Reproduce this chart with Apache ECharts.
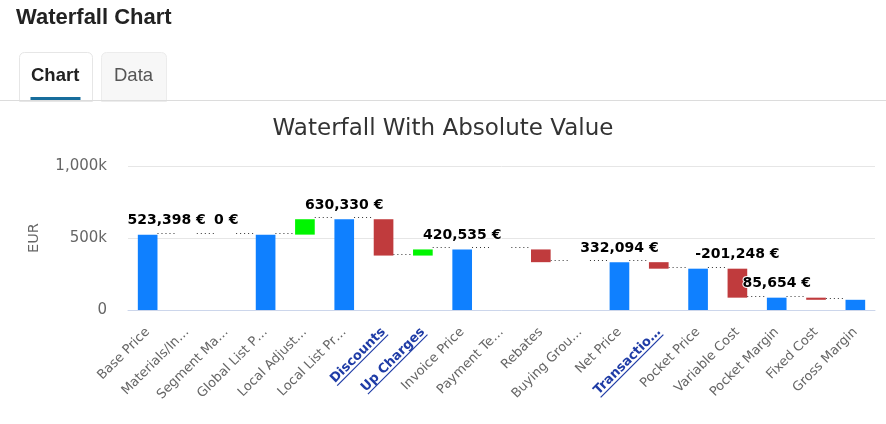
<!DOCTYPE html>
<html>
<head>
<meta charset="utf-8">
<script src="https://cdn.jsdelivr.net/npm/echarts@6/dist/echarts.min.js"></script>
<style>
html,body{margin:0;padding:0;background:#fff;}
#main{width:886px;height:424px;}
</style>
</head>
<body>
<div id="main"></div>
<script>
// ---- data ----
var categories = ['Base Price','Materials/In…','Segment Ma…','Global List P…','Local Adjust…','Local List Pr…','Discounts','Up Charges','Invoice Price','Payment Te…','Rebates','Buying Grou…','Net Price','Transactio…','Pocket Price','Variable Cost','Pocket Margin','Fixed Cost','Gross Margin'];
var amounts = [523398, 0, 0, 523398, 106932, 630330, -252330, 42535, 420535, 0, -88441, 0, 332094, -45192, 286902, -201248, 85654, -14800, 70854];
var isTotal = [true, false, false, true, false, true, false, false, true, false, false, false, true, false, true, false, true, false, true];
var linkCategories = ['Discounts','Up Charges','Transactio…'];
var labelledIndices = [0, 2, 5, 8, 12, 15, 16];
var yTicks = [0, 500000, 1000000];

// ---- derived waterfall geometry (values only) ----
var base = [], visible = [], running = [], colors = [];
var cur = 0;
for (var i = 0; i < amounts.length; i++) {
  if (isTotal[i]) {
    cur = amounts[i];
    base.push(0); visible.push(amounts[i]); colors.push('#0f80ff');
  } else {
    var start = cur, end = cur + amounts[i];
    base.push(Math.min(start, end));
    visible.push(Math.abs(amounts[i]));
    colors.push(amounts[i] >= 0 ? '#00f500' : '#c03b3d');
    cur = end;
  }
  running.push(cur);
}
function fmt(v){ return v.toLocaleString('en-US') + ' €'; }

var connectorData = [];
for (var j = 0; j < categories.length - 1; j++) connectorData.push([j, running[j]]);

var visData = visible.map(function(v, idx){
  var item = {value: v, itemStyle: {color: colors[idx]}};
  if (labelledIndices.indexOf(idx) >= 0) {
    item.label = {show: true, formatter: fmt(amounts[idx])};
    if (idx === 0) item.label.offset = [19, 0];
  }
  return item;
});

var X_FONT = 13, X_MARGIN = 20;
var chart = echarts.init(document.getElementById('main'));
var option = {
  animation: false,
  backgroundColor: '#fff',
  title: {
    text: 'Waterfall With Absolute Value',
    left: 'center',
    top: 113,
    textStyle: {fontFamily: 'DejaVu Sans', fontSize: 23, fontWeight: 'normal', color: '#333'}
  },
  grid: {left: 128, right: 11, top: 166, bottom: 114},
  xAxis: {
    type: 'category',
    data: categories,
    axisTick: {show: false},
    axisLine: {lineStyle: {color: '#ccd6eb'}},
    axisLabel: {
      interval: 0, rotate: 45, margin: X_MARGIN,
      fontFamily: 'DejaVu Sans', fontSize: X_FONT,
      color: function(v){ return linkCategories.indexOf(v) >= 0 ? '#1f3ca6' : '#666'; },
      formatter: function(v){ return linkCategories.indexOf(v) >= 0 ? '{l|' + v + '}' : v; },
      rich: {l: {fontFamily: 'DejaVu Sans', fontSize: X_FONT, fontWeight: 'bold', color: '#1f3ca6'}}
    }
  },
  yAxis: {
    type: 'value', min: yTicks[0], max: yTicks[yTicks.length-1], interval: yTicks[1]-yTicks[0],
    name: 'EUR', nameLocation: 'middle', nameGap: 86, nameRotate: 90,
    nameTextStyle: {fontFamily: 'DejaVu Sans', fontSize: 14.5, color: '#666'},
    axisLabel: {
      margin: 21, fontFamily: 'DejaVu Sans', fontSize: 15, color: '#666',
      formatter: function(v){ return v === 0 ? '0' : (v/1000).toLocaleString('en-US') + 'k'; }
    },
    splitLine: {lineStyle: {color: '#e6e6e6'}},
    axisLine: {show: false}, axisTick: {show: false}
  },
  series: [
    {
      type: 'bar', stack: 'wf', data: base, barWidth: '50%',
      itemStyle: {color: 'transparent'}, silent: true
    },
    {
      type: 'bar', stack: 'wf', data: visData, barWidth: '50%',
      label: {
        show: false, position: 'top', distance: 7,
        fontFamily: 'DejaVu Sans', fontWeight: 'bold', fontSize: 14, color: '#000',
        textBorderColor: '#fff', textBorderWidth: 2
      }
    },
    {
      type: 'custom', data: connectorData, silent: true, z: 1,
      renderItem: function(params, api){
        var p1 = api.coord([api.value(0), api.value(1)]);
        var p2 = api.coord([api.value(0) + 1, api.value(1)]);
        var hw = api.size([1, 0])[0] * 0.25;
        var y = Math.round(p1[1]) - 1.5;
        return {
          type: 'line',
          shape: {x1: p1[0] + hw, y1: y, x2: p2[0] - hw, y2: y},
          style: {stroke: '#333', lineWidth: 1, lineDash: [1, 3]}
        };
      }
    }
  ],
  graphic: [
    {type: 'text', left: 16, top: 7, style: {text: 'Waterfall Chart', font: 'bold 22px "Liberation Sans", Arial, sans-serif', fill: '#222'}},
    {type: 'rect', shape: {x: 19.5, y: 52.5, width: 73, height: 49, r: [5,5,0,0]}, style: {fill: '#fff', stroke: '#e6e6e6', lineWidth: 1}},
    {type: 'rect', shape: {x: 101.5, y: 52.5, width: 65, height: 49, r: [5,5,0,0]}, style: {fill: '#f7f7f7', stroke: '#ececec', lineWidth: 1}},
    {type: 'line', shape: {x1: 0, y1: 100.5, x2: 886, y2: 100.5}, style: {stroke: '#dcdcdc', lineWidth: 1}},
    {type: 'text', left: 31, top: 66, style: {text: 'Chart', font: 'bold 18.5px "Liberation Sans", Arial, sans-serif', fill: '#222'}},
    {type: 'text', left: 114, top: 66, style: {text: 'Data', font: '18.5px "Liberation Sans", Arial, sans-serif', fill: '#555'}},
    {type: 'rect', shape: {x: 30.5, y: 97, width: 50, height: 3}, style: {fill: '#176d9c'}}
  ]
};
chart.setOption(option);

// underline link-style category labels
(function(){
  var ctx = document.createElement('canvas').getContext('2d');
  ctx.font = 'bold ' + X_FONT + 'px "DejaVu Sans", sans-serif';
  var axisY = chart.convertToPixel({yAxisIndex: 0}, 0);
  var extra = [];
  var c = Math.SQRT1_2;
  categories.forEach(function(name, idx){
    if (linkCategories.indexOf(name) < 0) return;
    var x = chart.convertToPixel({xAxisIndex: 0}, idx);
    var ax = x, ay = axisY + X_MARGIN;
    var w = ctx.measureText(name).width;
    var u = X_FONT * 0.5;
    var sx = ax + (-w) * c + u * c, sy = ay - (-w) * c + u * c;
    var ex = ax + u * c, ey = ay + u * c;
    extra.push({type: 'line', shape: {x1: sx, y1: sy, x2: ex, y2: ey}, style: {stroke: '#1f3ca6', lineWidth: 1.2}});
  });
  chart.setOption({graphic: option.graphic.concat(extra)});
})();
</script>
</body>
</html>
